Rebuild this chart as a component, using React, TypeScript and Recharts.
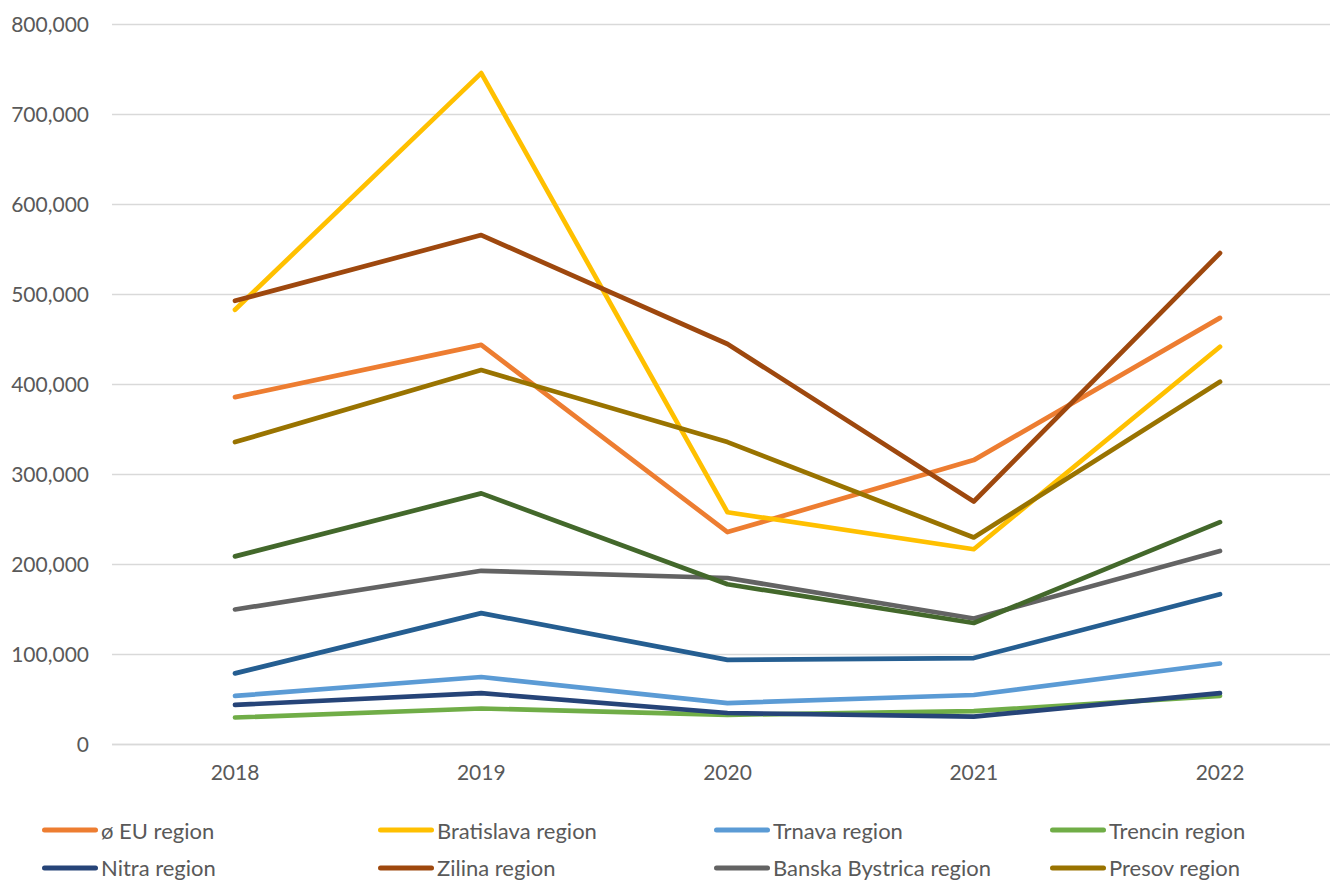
import React from "react";
import { LineChart, Line, XAxis, YAxis, CartesianGrid, Legend } from "recharts";

const years = ["2018", "2019", "2020", "2021", "2022"];
const euRegion = [386000, 444000, 236000, 316000, 474000];
const bratislava = [483000, 746000, 258000, 217000, 442000];
const trnava = [54000, 75000, 46000, 55000, 90000];
const trencin = [30000, 40000, 33000, 37000, 54000];
const nitra = [44000, 57000, 35000, 31000, 57000];
const zilina = [493000, 566000, 445000, 270000, 546000];
const banskaBystrica = [150000, 193000, 185000, 140000, 215000];
const presov = [336000, 416000, 336000, 230000, 403000];
const kosice = [209000, 279000, 178000, 135000, 247000];
const slovakia = [79000, 146000, 94000, 96000, 167000];
const yTicks = [0, 100000, 200000, 300000, 400000, 500000, 600000, 700000, 800000];

const series = [
  { key: "eu", name: "ø EU region", values: euRegion, color: "#ED7D31", legend: true },
  { key: "ba", name: "Bratislava region", values: bratislava, color: "#FFC000", legend: true },
  { key: "tt", name: "Trnava region", values: trnava, color: "#5B9BD5", legend: true },
  { key: "tn", name: "Trencin region", values: trencin, color: "#70AD47", legend: true },
  { key: "nr", name: "Nitra region", values: nitra, color: "#264478", legend: true },
  { key: "za", name: "Zilina region", values: zilina, color: "#9E480E", legend: true },
  { key: "bb", name: "Banska Bystrica region", values: banskaBystrica, color: "#636363", legend: true },
  { key: "po", name: "Presov region", values: presov, color: "#997300", legend: true },
  { key: "ke", name: "Kosice region", values: kosice, color: "#43682B", legend: false },
  { key: "sk", name: "ø Slovakia", values: slovakia, color: "#255E91", legend: false },
];

const data = years.map((y, i) => {
  const row: Record<string, string | number> = { year: y };
  series.forEach((s) => {
    row[s.key] = s.values[i];
  });
  return row;
});

const FONT = "Lato, 'Open Sans', sans-serif";

const renderLegend = () => {
  const items = series.filter((s) => s.legend);
  return (
    <div style={{ position: "relative", width: 1330, height: 76, fontFamily: FONT }}>
      {items.map((s, i) => {
        const col = i % 4;
        const row = Math.floor(i / 4);
        const left = 42 + col * 336;
        const top = row * 37.7;
        return (
          <div
            key={s.key}
            style={{
              position: "absolute",
              left,
              top,
              height: 38,
              display: "flex",
              alignItems: "center",
              whiteSpace: "nowrap",
            }}
          >
            <svg width={56} height={10} style={{ display: "block" }}>
              <line x1={2.5} y1={5} x2={53.5} y2={5} stroke={s.color} strokeWidth={5} strokeLinecap="round" />
            </svg>
            <span style={{ marginLeft: 3, fontSize: 22, color: "#595959" }}>{s.name}</span>
          </div>
        );
      })}
    </div>
  );
};

export default function App() {
  return (
    <div
      style={{
        position: "absolute",
        left: 0,
        top: 0,
        width: 1330,
        height: 880,
        overflow: "hidden",
        background: "#fff",
      }}
    >
      <LineChart
        width={1345}
        height={880}
        data={data}
        margin={{ top: 24.5, right: 2, bottom: 0, left: 0 }}
      >
        <CartesianGrid vertical={false} stroke="#D9D9D9" strokeWidth={1.4} />
        <XAxis
          dataKey="year"
          padding={{ left: 123, right: 123 }}
          axisLine={{ stroke: "#D9D9D9", strokeWidth: 1.4 }}
          tickLine={false}
          tickSize={0}
          tickMargin={21}
          height={59.5}
          tick={{ fill: "#595959", fontSize: 21, fontFamily: FONT }}
        />
        <YAxis
          width={112}
          domain={[0, 800000]}
          ticks={yTicks}
          interval={0}
          axisLine={false}
          tickLine={false}
          tickSize={0}
          tickMargin={23}
          tickFormatter={(v: number) => v.toLocaleString("en-US")}
          tick={{ fill: "#595959", fontSize: 21, fontFamily: FONT }}
        />
        <Legend
          content={renderLegend}
          wrapperStyle={{ position: "absolute", left: 0, top: 811, width: 1330, height: 76 }}
        />
        {series.map((s) => (
          <Line
            key={s.key}
            type="linear"
            dataKey={s.key}
            name={s.name}
            stroke={s.color}
            strokeWidth={4.7}
            strokeLinecap="round"
            strokeLinejoin="round"
            dot={false}
            activeDot={false}
            isAnimationActive={false}
            legendType={s.legend ? "line" : "none"}
          />
        ))}
      </LineChart>
    </div>
  );
}
